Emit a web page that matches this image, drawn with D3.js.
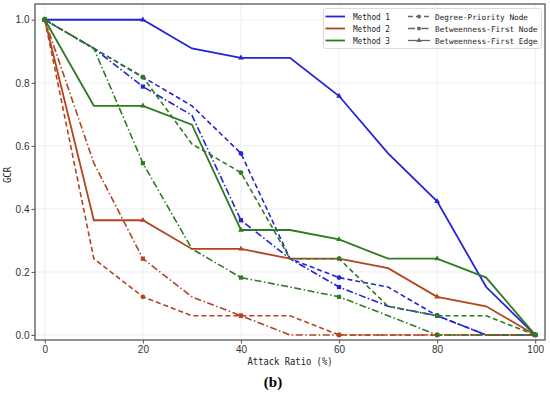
<!DOCTYPE html>
<html><head><meta charset="utf-8">
<script src="https://cdn.jsdelivr.net/npm/d3@7"></script>
<style>body{margin:0;background:#fff}</style>
</head><body>
<svg id="c" width="550" height="395"></svg>
<script>
const xs = [0,10,20,30,40,50,60,70,80,90,100];
const m1_edge    = [1.0,1.0,1.0,0.909,0.879,0.879,0.758,0.576,0.424,0.152,0.0];
const m1_degree  = [1.0,0.909,0.818,0.727,0.576,0.242,0.182,0.152,0.061,0.0,0.0];
const m1_btwNode = [1.0,0.909,0.788,0.697,0.364,0.242,0.152,0.091,0.061,0.0,0.0];
const m2_edge    = [1.0,0.364,0.364,0.273,0.273,0.242,0.242,0.212,0.121,0.091,0.0];
const m2_degree  = [1.0,0.242,0.121,0.061,0.061,0.061,0.0,0.0,0.0,0.0,0.0];
const m2_btwNode = [1.0,0.545,0.242,0.121,0.061,0.0,0.0,0.0,0.0,0.0,0.0];
const m3_edge    = [1.0,0.727,0.727,0.667,0.333,0.333,0.303,0.242,0.242,0.182,0.0];
const m3_degree  = [1.0,0.909,0.818,0.606,0.515,0.242,0.242,0.091,0.061,0.061,0.0];
const m3_btwNode = [1.0,0.909,0.545,0.273,0.182,0.152,0.121,0.061,0.0,0.0,0.0];
const methodNames = ["Method 1","Method 2","Method 3"];
const styleNames = ["Degree-Priority Node","Betweenness-First Node","Betweenness-First Edge"];
const xTicks = [0,20,40,60,80,100];
const yTicks = [0.0,0.2,0.4,0.6,0.8,1.0];

const colors = ["#2323d8","#b2451f","#2f7a22"];
const dashes = {degree:"5,3", btwNode:"7,2.5,1.5,2.5", edge:null};
const markers = {degree:d3.symbolCircle, btwNode:d3.symbolSquare, edge:d3.symbolTriangle};

const series = [
  {m:0, s:"degree", v:m1_degree},{m:0, s:"btwNode", v:m1_btwNode},{m:0, s:"edge", v:m1_edge},
  {m:1, s:"degree", v:m2_degree},{m:1, s:"btwNode", v:m2_btwNode},{m:1, s:"edge", v:m2_edge},
  {m:2, s:"degree", v:m3_degree},{m:2, s:"btwNode", v:m3_btwNode},{m:2, s:"edge", v:m3_edge}
];

const svg = d3.select("#c");
const x = d3.scaleLinear().domain([-2,102]).range([35,545]);
const y = d3.scaleLinear().domain([-0.016,1.05]).range([340,4]);

// grid
const g = svg.append("g");
g.selectAll(".gx").data(xTicks).enter().append("line")
  .attr("x1",d=>x(d)).attr("x2",d=>x(d)).attr("y1",y.range()[0]).attr("y2",y.range()[1])
  .attr("stroke","#ebebeb").attr("stroke-width",0.8);
g.selectAll(".gy").data(yTicks).enter().append("line")
  .attr("y1",d=>y(d)).attr("y2",d=>y(d)).attr("x1",x.range()[0]).attr("x2",x.range()[1])
  .attr("stroke","#ebebeb").attr("stroke-width",0.8);

// axes
const xAxis = svg.append("g").attr("transform","translate(0,340)")
  .call(d3.axisBottom(x).tickValues(xTicks).tickSize(3.5).tickPadding(2).tickFormat(d3.format("d")));
const yAxis = svg.append("g").attr("transform","translate(35,0)")
  .call(d3.axisLeft(y).tickValues(yTicks).tickSize(3.5).tickPadding(2).tickFormat(d3.format(".1f")));
[xAxis,yAxis].forEach(a=>{
  a.select(".domain").remove();
  a.selectAll("line").attr("stroke","#555").attr("stroke-width",1);
  a.selectAll("text").attr("font-family","Liberation Sans, Arial, sans-serif").attr("font-size",10).attr("fill","#333");
});
// spines
svg.append("rect").attr("x",35).attr("y",4).attr("width",510).attr("height",336)
  .attr("fill","none").attr("stroke","#555").attr("stroke-width",1.3);

// lines
const line = d3.line().x((d,i)=>x(xs[i])).y(d=>y(d));
const lg = svg.append("g");
series.forEach(s=>{
  lg.append("path").attr("d",line(s.v)).attr("fill","none")
    .attr("stroke",colors[s.m]).attr("stroke-width",s.s==="edge"?1.8:1.6)
    .attr("stroke-dasharray",dashes[s.s]);
  lg.selectAll(null).data(s.v.map((v,i)=>({v,i})).filter(d=>d.i%2===0)).enter()
    .append("path")
    .attr("d",d3.symbol().type(markers[s.s]).size(s.s==="edge"?14:18))
    .attr("transform",d=>`translate(${x(xs[d.i])},${y(d.v)})`)
    .attr("fill",colors[s.m]);
});

// axis labels
svg.append("text").attr("x",290).attr("y",365).attr("text-anchor","middle")
  .attr("font-family","DejaVu Sans Mono, monospace").attr("font-size",10).attr("fill","#222")
  .attr("textLength",85).attr("lengthAdjust","spacingAndGlyphs").text("Attack Ratio (%)");
svg.append("text").attr("transform","translate(11,175) rotate(-90)").attr("text-anchor","middle")
  .attr("font-family","DejaVu Sans Mono, monospace").attr("font-size",10).attr("fill","#222")
  .attr("textLength",16).attr("lengthAdjust","spacingAndGlyphs").text("GCR");
svg.append("text").attr("x",273).attr("y",387).attr("text-anchor","middle")
  .attr("font-family","Liberation Serif, serif").attr("font-weight","bold").attr("font-size",15)
  .attr("fill","#000").text("(b)");

// legend
const leg = svg.append("g");
leg.append("rect").attr("x",323.5).attr("y",8.5).attr("width",218).attr("height",40).attr("rx",2)
  .attr("fill","#fff").attr("fill-opacity",0.9).attr("stroke","#d0d0d0").attr("stroke-width",0.8);
const rowY = [16.5,28.5,40.5];
methodNames.forEach((n,i)=>{
  leg.append("line").attr("x1",325.5).attr("x2",345).attr("y1",rowY[i]).attr("y2",rowY[i])
    .attr("stroke",colors[i]).attr("stroke-width",1.8);
  leg.append("text").attr("x",353).attr("y",rowY[i]+3.2)
    .attr("font-family","DejaVu Sans Mono, monospace").attr("font-size",8.2).attr("fill","#222")
    .attr("textLength",37).attr("lengthAdjust","spacingAndGlyphs").text(n);
});
const styleKeys = ["degree","btwNode","edge"];
const styleLen = [93,102.5,102.5];
styleNames.forEach((n,i)=>{
  const k = styleKeys[i];
  leg.append("line").attr("x1",408).attr("x2",430).attr("y1",rowY[i]).attr("y2",rowY[i])
    .attr("stroke","#666").attr("stroke-width",1.3).attr("stroke-dasharray",dashes[k]);
  leg.append("path").attr("d",d3.symbol().type(markers[k]).size(12)())
    .attr("transform",`translate(419,${rowY[i]})`).attr("fill","#666");
  leg.append("text").attr("x",435).attr("y",rowY[i]+3.2)
    .attr("font-family","DejaVu Sans Mono, monospace").attr("font-size",7.8).attr("fill","#222")
    .attr("textLength",styleLen[i]).attr("lengthAdjust","spacingAndGlyphs").text(n);
});
</script>
</body></html>
